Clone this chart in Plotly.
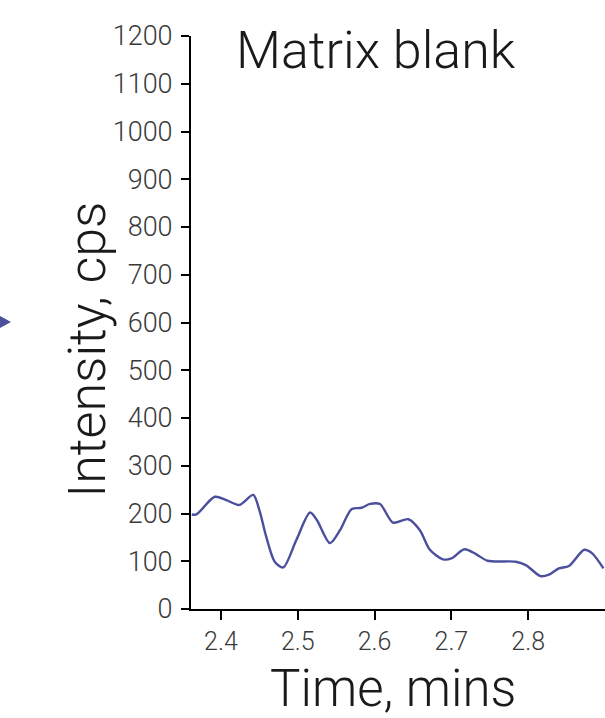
import plotly.graph_objects as go

time_min = [2.362, 2.368, 2.392, 2.407, 2.424, 2.442, 2.450, 2.459, 2.470, 2.481,
            2.498, 2.516, 2.525, 2.542, 2.555, 2.570, 2.583, 2.594, 2.607, 2.624,
            2.644, 2.659, 2.672, 2.689, 2.700, 2.717, 2.732, 2.747, 2.784, 2.797,
            2.816, 2.827, 2.840, 2.853, 2.873, 2.883, 2.898]
intensity = [198, 198, 235, 228, 218, 239, 207, 151, 99, 87,
             144, 202, 186, 138, 165, 209, 212, 220, 220, 181,
             188, 165, 124, 104, 106, 125, 115, 101, 99, 92,
             69, 72, 85, 90, 124, 117, 85]
y_ticks = list(range(0, 1201, 100))
x_ticks = [2.4, 2.5, 2.6, 2.7, 2.8]

LINE = "#4b4f9c"
FONT = "Roboto, Noto Sans, sans-serif"
TXT = "#1a1a1a"
TICK_TXT = "#3a3a3a"

fig = go.Figure()
fig.add_trace(go.Scatter(x=time_min, y=intensity, mode="lines",
                         line=dict(color=LINE, width=2.4, shape="spline", smoothing=0.8),
                         showlegend=False, cliponaxis=True))

fig.update_layout(
    width=605, height=718,
    margin=dict(l=191, r=0, t=36, b=109),
    paper_bgcolor="white", plot_bgcolor="white",
    xaxis=dict(range=[2.361, 2.9], tickvals=x_ticks, ticktext=[f"{v:.1f}" for v in x_ticks],
               showline=True, linecolor="black", linewidth=2, ticks="outside",
               ticklen=9, tickwidth=2, tickcolor="black", showgrid=False, zeroline=False,
               ticklabelstandoff=0,
               tickfont=dict(family=FONT, size=25, color=TICK_TXT, weight=300)),
    yaxis=dict(range=[0, 1200], tickvals=y_ticks,
               showline=True, linecolor="black", linewidth=2, ticks="outside",
               ticklen=8, tickwidth=2, tickcolor="black", showgrid=False, zeroline=False,
               ticklabelstandoff=3,
               tickfont=dict(family=FONT, size=27, color=TICK_TXT, weight=300)),
    annotations=[
        dict(text="Matrix blank", xref="paper", yref="paper", x=0.104, y=0.974,
             xanchor="left", yanchor="middle", showarrow=False,
             font=dict(family=FONT, size=52, color=TXT, weight=300)),
        dict(text="Intensity, cps", xref="paper", yref="paper", x=-0.2507, y=0.453,
             xanchor="center", yanchor="middle", showarrow=False, textangle=-90,
             font=dict(family=FONT, size=52, color=TXT, weight=300)),
        dict(text="Time, mins", xref="paper", yref="paper", x=0.488, y=-0.1389,
             xanchor="center", yanchor="middle", showarrow=False,
             font=dict(family=FONT, size=51, color=TXT, weight=300)),
    ],
    shapes=[dict(type="path", xref="paper", yref="paper",
                 path="M -0.4614,0.5114 L -0.4348,0.5009 L -0.4614,0.4904 Z",
                 fillcolor=LINE, line=dict(width=0))],
)

fig.write_html("out.html", config={"displayModeBar": False},
               post_script="document.body.style.margin='0';document.body.style.padding='0';")
